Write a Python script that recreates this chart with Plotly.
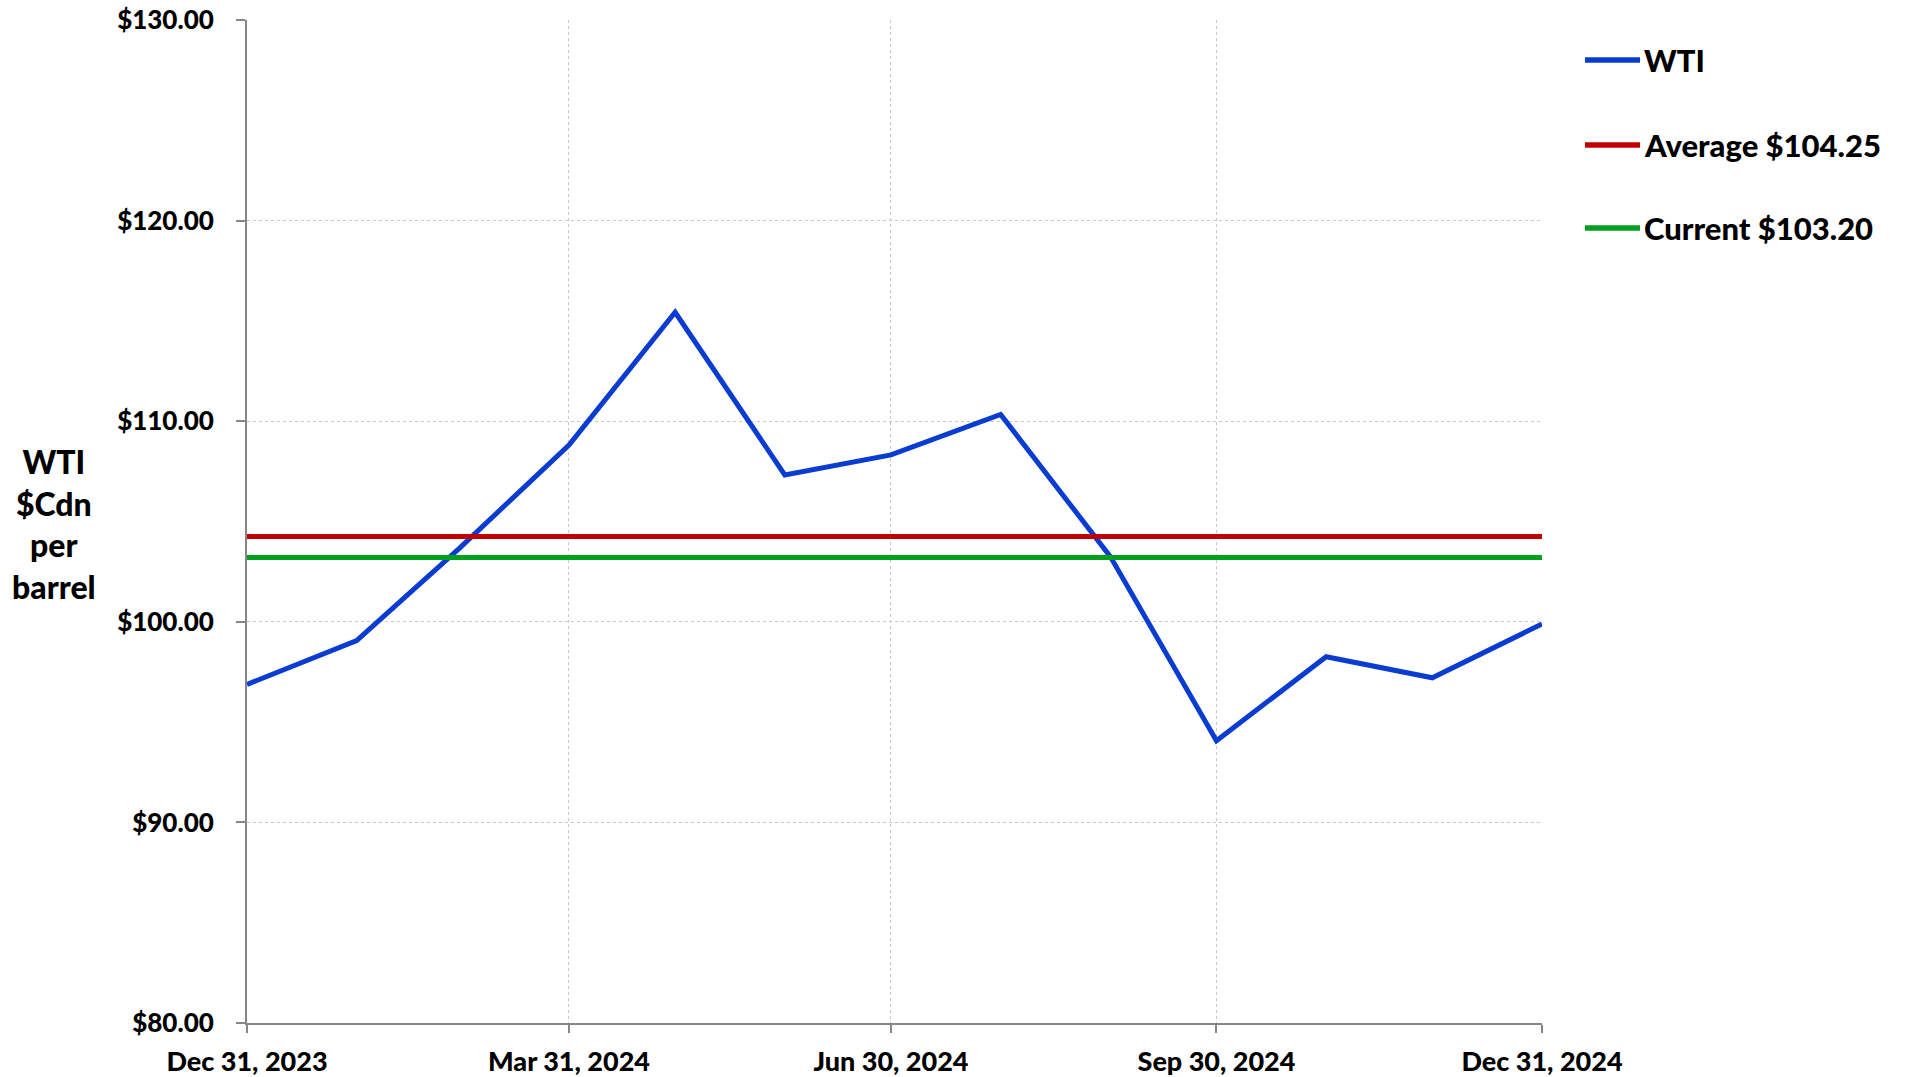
import plotly.graph_objects as go

# ---- data ----
dates = ["2023-12-31", "2024-01-31", "2024-02-29", "2024-03-31", "2024-04-30",
         "2024-05-31", "2024-06-30", "2024-07-31", "2024-08-31", "2024-09-30",
         "2024-10-31", "2024-11-30", "2024-12-31"]
wti = [96.88, 99.06, 103.66, 108.81, 115.43, 107.32, 108.32, 110.34,
       103.25, 94.07, 98.26, 97.21, 99.89]
average_value = 104.25
current_value = 103.20
series_names = ["WTI", "Average $104.25", "Current $103.20"]
series_colors = ["#0A3CD2", "#C00000", "#03A01E"]
x_tick_vals = ["2023-12-31", "2024-03-31", "2024-06-30", "2024-09-30", "2024-12-31"]
x_tick_text = ["Dec 31, 2023", "Mar 31, 2024", "Jun 30, 2024", "Sep 30, 2024", "Dec 31, 2024"]
y_title = "WTI<br>$Cdn<br>per<br>barrel"

FONT = "Lato"

fig = go.Figure()
fig.add_trace(go.Scatter(x=dates, y=wti, mode="lines", name=series_names[0],
                         line=dict(color=series_colors[0], width=5), showlegend=False))
fig.add_trace(go.Scatter(x=[dates[0], dates[-1]], y=[average_value, average_value],
                         mode="lines", name=series_names[1],
                         line=dict(color=series_colors[1], width=5), showlegend=False))
fig.add_trace(go.Scatter(x=[dates[0], dates[-1]], y=[current_value, current_value],
                         mode="lines", name=series_names[2],
                         line=dict(color=series_colors[2], width=5), showlegend=False))

# manual legend (longer line samples like the reference)
legend_y = [0.9601, 0.8754, 0.7926]
for name, color, ly in zip(series_names, series_colors, legend_y):
    fig.add_shape(type="line", xref="paper", yref="paper",
                  x0=1.0332, x1=1.0757, y0=ly, y1=ly,
                  line=dict(color=color, width=5.5))
    fig.add_annotation(xref="paper", yref="paper", x=1.0772, y=ly,
                       text=name, showarrow=False, xanchor="left", yanchor="middle",
                       font=dict(family=FONT, size=31, color="black", weight=900))

# y-axis title
fig.add_annotation(xref="paper", yref="paper", x=-0.149, y=0.498, text=y_title,
                   showarrow=False, xanchor="center", yanchor="middle", align="center",
                   font=dict(family=FONT, size=32, color="black", weight=900))

fig.update_layout(
    width=1908, height=1077,
    margin=dict(l=247, r=366, t=20, b=54),
    plot_bgcolor="white", paper_bgcolor="white",
    font=dict(family=FONT, color="black"),
    showlegend=False,
)
fig.update_xaxes(
    type="date", range=[dates[0], dates[-1]], automargin=False,
    tickvals=x_tick_vals, ticktext=x_tick_text,
    tickfont=dict(family=FONT, size=27, color="black", weight=900),
    showline=True, linecolor="#868686", linewidth=2,
    ticks="outside", ticklen=8, tickcolor="#868686", tickwidth=2,
    ticklabelstandoff=6, ticklabeloverflow="allow",
    showgrid=True, gridcolor="#C8C8C8", griddash="dot", gridwidth=1,
    zeroline=False,
)
fig.update_yaxes(
    range=[80, 130], dtick=10, tick0=80, automargin=False,
    tickprefix="$", tickformat=".2f",
    tickfont=dict(family=FONT, size=26, color="black", weight=900),
    showline=True, linecolor="#868686", linewidth=2,
    ticks="outside", ticklen=9, tickcolor="#868686", tickwidth=2,
    ticklabelstandoff=17, ticklabeloverflow="allow",
    showgrid=True, gridcolor="#C8C8C8", griddash="dot", gridwidth=1,
    zeroline=False,
)

# remove the default 8px page margin so the 1908x1077 figure fills the window exactly
fig.write_html("out.html",
               config={"displayModeBar": False},
               post_script="document.body.style.margin='0';document.body.style.overflow='hidden';")
